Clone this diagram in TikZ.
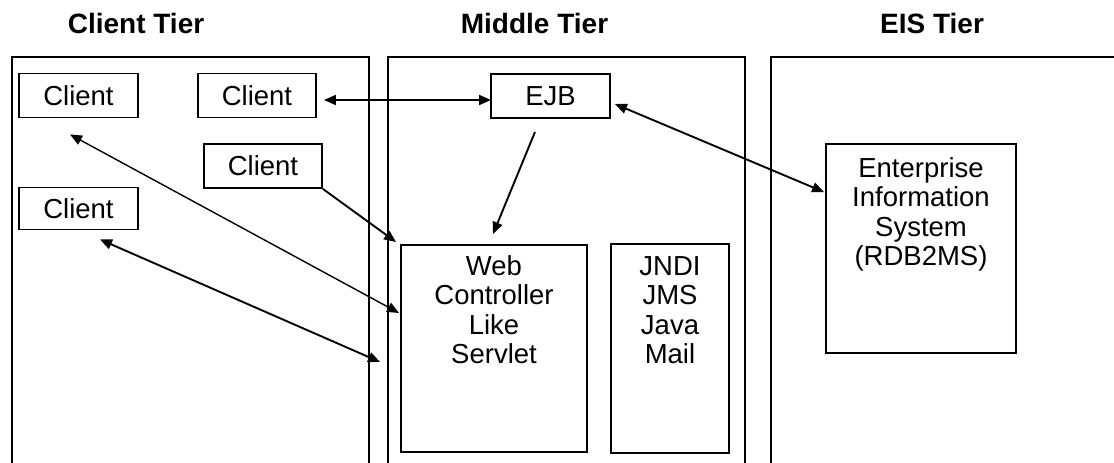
\documentclass[tikz,border=0pt]{standalone}
\usepackage{fontspec}
\setmainfont{Liberation Sans}
\usetikzlibrary{arrows.meta,calc}

\begin{document}
\begin{tikzpicture}[x=1pt,y=-1pt,
  every node/.style={font=\fontsize{27.5}{29.5}\selectfont},
  tier/.style={draw, line width=1.9pt, inner sep=0pt, anchor=north west},
  box/.style={draw, line width=1.9pt, inner sep=0pt},
  boxtext/.style={align=center, inner sep=0pt, anchor=north},
  title/.style={font=\fontsize{28}{30}\selectfont\bfseries, inner sep=0pt, anchor=base},
  >={Triangle[length=12pt,width=10pt]},
  link/.style={line width=1.9pt},
  thinlink/.style={line width=1.4pt}]

\path[use as bounding box] (0,0) rectangle (1114,463);
\clip (0,0) rectangle (1114,463);

% tier titles
\node[title] (lclient) at (136,34) {Client Tier};
\node[title] (lmiddle) at (534.5,34) {Middle Tier};
\node[title] (leis) at (932,34) {EIS Tier};

% tier containers (open towards the bottom)
\node[tier, minimum width=357pt, minimum height=440pt] (tclient) at (11,56) {};
\node[tier, minimum width=357pt, minimum height=440pt] (tmiddle) at (387,56) {};
\node[tier, minimum width=380pt, minimum height=440pt] (teis) at (770,56) {};

% clients
\node[box, minimum width=119pt, minimum height=44pt] (c1) at (78.5,95.5) {Client};
\node[box, minimum width=118pt, minimum height=44pt] (c2) at (257,95.5) {Client};
\node[box, minimum width=118pt, minimum height=44pt] (c3) at (263,166) {Client};
\node[box, minimum width=119pt, minimum height=42pt] (c4) at (78.5,208.5) {Client};

% middle tier components
\node[box, minimum width=119pt, minimum height=44pt] (ejb) at (550.5,96) {EJB};
\node[box, minimum width=186pt, minimum height=207pt] (web) at (494,348.5) {};
\node[boxtext] (webtxt) at ($(web.north)+(0,11)$) {Web\\Controller\\Like\\Servlet};
\node[box, minimum width=118pt, minimum height=209pt] (jndi) at (670,348.5) {};
\node[boxtext] (jnditxt) at ($(jndi.north)+(0,13)$) {JNDI\\JMS\\Java\\Mail};

% enterprise information system
\node[box, minimum width=190pt, minimum height=209pt] (eis) at (921,248.5) {};
\node[boxtext] (eistxt) at ($(eis.north)+(0,14)$) {Enterprise\\Information\\System\\(RDB2MS)};

% connectors
\draw[link, <->] ($(c2.east)+(7,4.5)$) -- ($(ejb.west)+(1,4)$);
\draw[link, ->] ($(ejb.south)+(-15.5,13)$) -- ($(web.north)+(-1,-10)$);
\draw[link, <->] ($(ejb.east)+(4,8)$) -- ($(eis.north west)+(-1,49)$);
\draw[link, ->] (c3.south east) -- ($(web.north west)+(-4,-2)$);
\draw[thinlink, <->] ($(c1.south)+(-8.5,16)$) -- ($(web.west)+(-1,-35.5)$);
\draw[link, <->] ($(c4.south)+(21.5,9)$) -- ($(web.west)+(-20,13.5)$);

\end{tikzpicture}
\end{document}
